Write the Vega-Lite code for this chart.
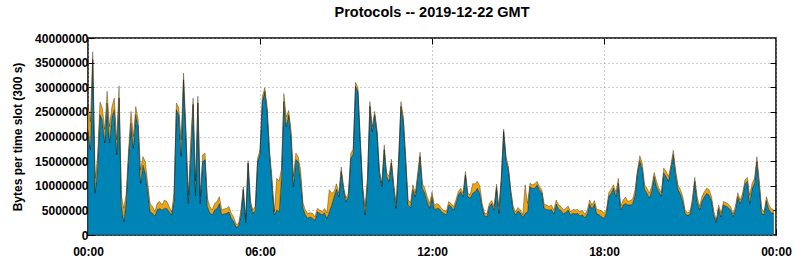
{
"$schema": "https://vega.github.io/schema/vega-lite/v6.json",
"width": 688, "height": 197,
"autosize": "none",
"padding": {"left": 88, "top": 38, "right": 19, "bottom": 25},
"background": "white",
"title": {"text": "Protocols -- 2019-12-22 GMT", "fontSize": 14.5, "fontWeight": "bold", "font": "Liberation Sans", "color": "black", "offset": 12},
"config": {"view": {"stroke": "black", "strokeWidth": 1.5}, "font": "Liberation Sans"},
"data": {"values": [
{"t":0,"tcp":21500000,"other":4900000},{"t":5,"tcp":17300000,"other":5700000},{"t":10,"tcp":35600000,"other":1600000},{"t":15,"tcp":8500000,"other":3000000},
{"t":20,"tcp":14000000,"other":2000000},{"t":25,"tcp":24400000,"other":2600000},{"t":30,"tcp":23400000,"other":2400000},{"t":35,"tcp":18700000,"other":2700000},
{"t":40,"tcp":26800000,"other":2400000},{"t":45,"tcp":18700000,"other":3300000},{"t":50,"tcp":24000000,"other":2000000},{"t":55,"tcp":25400000,"other":2400000},
{"t":60,"tcp":16300000,"other":3000000},{"t":65,"tcp":27800000,"other":2500000},{"t":70,"tcp":6000000,"other":2000000},{"t":75,"tcp":2700000,"other":2700000},
{"t":80,"tcp":7000000,"other":1500000},{"t":85,"tcp":16000000,"other":1500000},{"t":90,"tcp":22700000,"other":2400000},{"t":95,"tcp":17600000,"other":2400000},
{"t":100,"tcp":24400000,"other":1700000},{"t":105,"tcp":22000000,"other":1400000},{"t":110,"tcp":10500000,"other":2700000},{"t":115,"tcp":14200000,"other":1700000},
{"t":120,"tcp":12600000,"other":2300000},{"t":125,"tcp":9200000,"other":1300000},{"t":130,"tcp":4700000,"other":1700000},{"t":135,"tcp":4400000,"other":1400000},
{"t":140,"tcp":3900000,"other":900000},{"t":145,"tcp":5200000,"other":1300000},{"t":150,"tcp":5400000,"other":1400000},{"t":155,"tcp":5100000,"other":1000000},
{"t":160,"tcp":5400000,"other":1700000},{"t":165,"tcp":5400000,"other":1400000},{"t":170,"tcp":4700000,"other":1100000},{"t":175,"tcp":4100000,"other":600000},
{"t":180,"tcp":7000000,"other":1500000},{"t":185,"tcp":25400000,"other":1400000},{"t":190,"tcp":24400000,"other":1400000},{"t":195,"tcp":16000000,"other":3300000},
{"t":200,"tcp":31500000,"other":1400000},{"t":205,"tcp":20000000,"other":1500000},{"t":210,"tcp":6400000,"other":1600000},{"t":215,"tcp":16000000,"other":3300000},
{"t":220,"tcp":26500000,"other":1300000},{"t":225,"tcp":8000000,"other":3000000},{"t":230,"tcp":26800000,"other":1400000},{"t":235,"tcp":6400000,"other":1400000},
{"t":240,"tcp":14900000,"other":1400000},{"t":245,"tcp":15300000,"other":1300000},{"t":250,"tcp":5800000,"other":1700000},{"t":255,"tcp":4500000,"other":1300000},
{"t":260,"tcp":4100000,"other":1000000},{"t":265,"tcp":5100000,"other":1300000},{"t":270,"tcp":5400000,"other":1400000},{"t":275,"tcp":6400000,"other":1400000},
{"t":280,"tcp":4100000,"other":1000000},{"t":285,"tcp":4300000,"other":1000000},{"t":290,"tcp":4400000,"other":1000000},{"t":295,"tcp":4700000,"other":1100000},
{"t":300,"tcp":3400000,"other":1000000},{"t":305,"tcp":2800000,"other":800000},{"t":310,"tcp":1600000,"other":600000},{"t":315,"tcp":1800000,"other":500000},
{"t":320,"tcp":4000000,"other":1000000},{"t":325,"tcp":9200000,"other":600000},{"t":330,"tcp":2500000,"other":600000},{"t":335,"tcp":14600000,"other":500000},
{"t":340,"tcp":6400000,"other":600000},{"t":345,"tcp":4400000,"other":700000},{"t":350,"tcp":5000000,"other":800000},{"t":355,"tcp":14900000,"other":700000},
{"t":360,"tcp":16600000,"other":700000},{"t":365,"tcp":27100000,"other":1100000},{"t":370,"tcp":29200000,"other":700000},{"t":375,"tcp":25100000,"other":1000000},
{"t":380,"tcp":16300000,"other":1000000},{"t":385,"tcp":10500000,"other":1400000},{"t":390,"tcp":4100000,"other":600000},{"t":395,"tcp":5100000,"other":6400000},
{"t":400,"tcp":4700000,"other":6300000},{"t":405,"tcp":12000000,"other":1500000},{"t":410,"tcp":27100000,"other":1600000},{"t":415,"tcp":22000000,"other":2000000},
{"t":420,"tcp":24400000,"other":900000},{"t":425,"tcp":20000000,"other":1400000},{"t":430,"tcp":9800000,"other":2100000},{"t":435,"tcp":15300000,"other":1300000},
{"t":440,"tcp":14900000,"other":1000000},{"t":445,"tcp":11200000,"other":2000000},{"t":450,"tcp":5500000,"other":1000000},{"t":455,"tcp":4100000,"other":1000000},
{"t":460,"tcp":3400000,"other":1000000},{"t":465,"tcp":3700000,"other":800000},{"t":470,"tcp":3400000,"other":1000000},{"t":475,"tcp":3000000,"other":700000},
{"t":480,"tcp":4700000,"other":700000},{"t":485,"tcp":4400000,"other":700000},{"t":490,"tcp":4100000,"other":600000},{"t":495,"tcp":4500000,"other":900000},
{"t":500,"tcp":3400000,"other":1100000},{"t":505,"tcp":4700000,"other":4500000},{"t":510,"tcp":6100000,"other":2400000},{"t":515,"tcp":7800000,"other":1000000},
{"t":520,"tcp":9300000,"other":1100000},{"t":525,"tcp":7800000,"other":700000},{"t":530,"tcp":12900000,"other":900000},{"t":535,"tcp":9300000,"other":500000},
{"t":540,"tcp":6800000,"other":700000},{"t":545,"tcp":7800000,"other":700000},{"t":550,"tcp":15600000,"other":1000000},{"t":555,"tcp":16500000,"other":900000},
{"t":560,"tcp":30200000,"other":800000},{"t":565,"tcp":29200000,"other":700000},{"t":570,"tcp":18700000,"other":600000},{"t":575,"tcp":9200000,"other":600000},
{"t":580,"tcp":4100000,"other":1700000},{"t":585,"tcp":10900000,"other":1000000},{"t":590,"tcp":26100000,"other":1000000},{"t":595,"tcp":21000000,"other":1000000},
{"t":600,"tcp":24400000,"other":700000},{"t":605,"tcp":20700000,"other":700000},{"t":610,"tcp":12600000,"other":600000},{"t":615,"tcp":9800000,"other":700000},
{"t":620,"tcp":17300000,"other":1000000},{"t":625,"tcp":11900000,"other":700000},{"t":630,"tcp":10900000,"other":1000000},{"t":635,"tcp":14600000,"other":800000},
{"t":640,"tcp":9500000,"other":1000000},{"t":645,"tcp":5400000,"other":1000000},{"t":650,"tcp":14600000,"other":700000},{"t":655,"tcp":26100000,"other":1000000},
{"t":660,"tcp":23100000,"other":1000000},{"t":665,"tcp":14900000,"other":1000000},{"t":670,"tcp":6100000,"other":1000000},{"t":675,"tcp":5600000,"other":1000000},
{"t":680,"tcp":9200000,"other":1000000},{"t":685,"tcp":7800000,"other":700000},{"t":690,"tcp":11500000,"other":1100000},{"t":695,"tcp":15900000,"other":900000},
{"t":700,"tcp":9400000,"other":1000000},{"t":705,"tcp":8500000,"other":1000000},{"t":710,"tcp":6800000,"other":1000000},{"t":715,"tcp":5400000,"other":1000000},
{"t":720,"tcp":7800000,"other":1000000},{"t":725,"tcp":5200000,"other":800000},{"t":730,"tcp":5400000,"other":1000000},{"t":735,"tcp":5400000,"other":700000},
{"t":740,"tcp":4700000,"other":700000},{"t":745,"tcp":4400000,"other":600000},{"t":750,"tcp":4100000,"other":700000},{"t":755,"tcp":6100000,"other":700000},
{"t":760,"tcp":5800000,"other":600000},{"t":765,"tcp":5100000,"other":700000},{"t":770,"tcp":6400000,"other":700000},{"t":775,"tcp":8100000,"other":700000},
{"t":780,"tcp":8800000,"other":700000},{"t":785,"tcp":7800000,"other":700000},{"t":790,"tcp":12200000,"other":700000},{"t":795,"tcp":7800000,"other":700000},
{"t":800,"tcp":7500000,"other":700000},{"t":805,"tcp":8500000,"other":1900000},{"t":810,"tcp":8800000,"other":1600000},{"t":815,"tcp":9500000,"other":1400000},
{"t":820,"tcp":8500000,"other":1500000},{"t":825,"tcp":5800000,"other":600000},{"t":830,"tcp":3900000,"other":500000},{"t":835,"tcp":3700000,"other":700000},
{"t":840,"tcp":5800000,"other":600000},{"t":845,"tcp":6400000,"other":600000},{"t":850,"tcp":5100000,"other":700000},{"t":855,"tcp":9600000,"other":700000},
{"t":860,"tcp":4400000,"other":1400000},{"t":865,"tcp":11000000,"other":700000},{"t":870,"tcp":21000000,"other":500000},{"t":875,"tcp":15300000,"other":600000},
{"t":880,"tcp":13200000,"other":700000},{"t":885,"tcp":8500000,"other":700000},{"t":890,"tcp":5100000,"other":700000},{"t":895,"tcp":4100000,"other":600000},
{"t":900,"tcp":4900000,"other":700000},{"t":905,"tcp":4500000,"other":600000},{"t":910,"tcp":3600000,"other":500000},{"t":915,"tcp":4400000,"other":5800000},
{"t":920,"tcp":4700000,"other":1700000},{"t":925,"tcp":9800000,"other":700000},{"t":930,"tcp":9500000,"other":700000},{"t":935,"tcp":9500000,"other":900000},
{"t":940,"tcp":10200000,"other":700000},{"t":945,"tcp":9200000,"other":600000},{"t":950,"tcp":8500000,"other":700000},{"t":955,"tcp":5400000,"other":800000},
{"t":960,"tcp":5200000,"other":900000},{"t":965,"tcp":5100000,"other":700000},{"t":970,"tcp":5200000,"other":900000},{"t":975,"tcp":4300000,"other":800000},
{"t":980,"tcp":6300000,"other":800000},{"t":985,"tcp":5300000,"other":800000},{"t":990,"tcp":5000000,"other":800000},{"t":995,"tcp":4300000,"other":800000},
{"t":1000,"tcp":4600000,"other":800000},{"t":1005,"tcp":5100000,"other":800000},{"t":1010,"tcp":4100000,"other":600000},{"t":1015,"tcp":4400000,"other":800000},
{"t":1020,"tcp":4300000,"other":800000},{"t":1025,"tcp":4400000,"other":800000},{"t":1030,"tcp":3900000,"other":800000},{"t":1035,"tcp":4100000,"other":900000},
{"t":1040,"tcp":3500000,"other":700000},{"t":1045,"tcp":4300000,"other":800000},{"t":1050,"tcp":6300000,"other":800000},{"t":1055,"tcp":5300000,"other":800000},
{"t":1060,"tcp":6300000,"other":700000},{"t":1065,"tcp":4300000,"other":900000},{"t":1070,"tcp":4100000,"other":1000000},{"t":1075,"tcp":3700000,"other":1200000},
{"t":1080,"tcp":3400000,"other":1000000},{"t":1085,"tcp":4500000,"other":500000},{"t":1090,"tcp":7800000,"other":800000},{"t":1095,"tcp":8500000,"other":800000},
{"t":1100,"tcp":9500000,"other":700000},{"t":1105,"tcp":7800000,"other":900000},{"t":1110,"tcp":10500000,"other":1000000},{"t":1115,"tcp":5100000,"other":700000},
{"t":1120,"tcp":6100000,"other":1000000},{"t":1125,"tcp":6400000,"other":1300000},{"t":1130,"tcp":6100000,"other":700000},{"t":1135,"tcp":6100000,"other":900000},
{"t":1140,"tcp":6400000,"other":900000},{"t":1145,"tcp":8100000,"other":1100000},{"t":1150,"tcp":12600000,"other":600000},{"t":1155,"tcp":15100000,"other":1000000},
{"t":1160,"tcp":13500000,"other":1100000},{"t":1165,"tcp":9300000,"other":900000},{"t":1170,"tcp":8500000,"other":1000000},{"t":1175,"tcp":7500000,"other":1000000},
{"t":1180,"tcp":9000000,"other":1000000},{"t":1185,"tcp":11900000,"other":800000},{"t":1190,"tcp":9800000,"other":1100000},{"t":1195,"tcp":8800000,"other":700000},
{"t":1200,"tcp":7900000,"other":700000},{"t":1205,"tcp":12600000,"other":1000000},{"t":1210,"tcp":11900000,"other":1000000},{"t":1215,"tcp":10900000,"other":1000000},
{"t":1220,"tcp":13500000,"other":700000},{"t":1225,"tcp":16300000,"other":900000},{"t":1230,"tcp":12200000,"other":1000000},{"t":1235,"tcp":9200000,"other":1000000},
{"t":1240,"tcp":8300000,"other":900000},{"t":1245,"tcp":6800000,"other":1000000},{"t":1250,"tcp":4300000,"other":700000},{"t":1255,"tcp":4000000,"other":500000},
{"t":1260,"tcp":4200000,"other":500000},{"t":1265,"tcp":6500000,"other":1000000},{"t":1270,"tcp":10900000,"other":800000},{"t":1275,"tcp":6800000,"other":1000000},
{"t":1280,"tcp":5100000,"other":700000},{"t":1285,"tcp":6800000,"other":1000000},{"t":1290,"tcp":7800000,"other":1000000},{"t":1295,"tcp":8500000,"other":1000000},
{"t":1300,"tcp":8100000,"other":1100000},{"t":1305,"tcp":7000000,"other":800000},{"t":1310,"tcp":4000000,"other":800000},{"t":1315,"tcp":2600000,"other":400000},
{"t":1320,"tcp":5400000,"other":700000},{"t":1325,"tcp":3700000,"other":700000},{"t":1330,"tcp":6100000,"other":700000},{"t":1335,"tcp":5900000,"other":700000},
{"t":1340,"tcp":5600000,"other":700000},{"t":1345,"tcp":5100000,"other":700000},{"t":1350,"tcp":3800000,"other":500000},{"t":1355,"tcp":5100000,"other":700000},
{"t":1360,"tcp":7800000,"other":800000},{"t":1365,"tcp":6400000,"other":700000},{"t":1370,"tcp":7700000,"other":800000},{"t":1375,"tcp":10400000,"other":800000},
{"t":1380,"tcp":10900000,"other":800000},{"t":1385,"tcp":6400000,"other":1700000},{"t":1390,"tcp":9500000,"other":1000000},{"t":1395,"tcp":10500000,"other":1000000},
{"t":1400,"tcp":14900000,"other":1000000},{"t":1405,"tcp":9800000,"other":1400000},{"t":1410,"tcp":4400000,"other":1000000},{"t":1415,"tcp":4100000,"other":600000},
{"t":1420,"tcp":7000000,"other":800000},{"t":1425,"tcp":5200000,"other":900000},{"t":1430,"tcp":4500000,"other":900000},{"t":1435,"tcp":4400000,"other":700000}
]},
"transform": [{"fold": ["tcp", "other"], "as": ["proto", "bytes"]}],
"encoding": {
  "x": {"field": "t", "type": "quantitative", "scale": {"domain": [0, 1440], "nice": false, "zero": false}},
  "y": {"field": "bytes", "type": "quantitative", "stack": "zero", "scale": {"domain": [0, 40000000], "nice": false}},
  "color": {"field": "proto", "type": "nominal", "scale": {"domain": ["tcp", "other"], "range": ["#0083b5", "#eca413"]}, "legend": null},
  "order": {"field": "proto", "sort": "descending"}
},
"layer": [
  {"mark": {"type": "area", "stroke": "black", "strokeWidth": 0.8, "strokeOpacity": 0.4},
   "encoding": {
     "x": {"field": "t", "type": "quantitative", "axis": {"orient": "bottom", "title": null, "values": [0, 360, 720, 1080, 1440], "labelExpr": "(datum.value % 1440 < 600 ? '0' : '') + floor((datum.value % 1440) / 60) + ':00'", "labelFont": "Liberation Sans", "labelFontSize": 12, "labelFontWeight": "bold", "labelColor": "black", "labelPadding": 17, "tickSize": -6, "tickColor": "black", "domain": false, "grid": true, "gridDash": [1, 3], "gridColor": "#9a9a9a", "labelFlush": false}},
     "y": {"field": "bytes", "type": "quantitative", "axis": {"orient": "left", "title": "Bytes per time slot (300 s)", "titleFont": "Liberation Sans", "titleFontSize": 12, "titleFontWeight": "bold", "titleColor": "black", "titlePadding": 10, "values": [0, 5000000, 10000000, 15000000, 20000000, 25000000, 30000000, 35000000, 40000000], "format": "d", "labelFont": "Liberation Sans", "labelFontSize": 12, "labelFontWeight": "bold", "labelColor": "black", "labelPadding": 6, "tickSize": -6, "tickColor": "black", "domain": false, "grid": true, "gridDash": [1, 3], "gridColor": "#9a9a9a"}}
   }},
  {"mark": {"type": "area", "opacity": 0},
   "encoding": {
     "x": {"field": "t", "type": "quantitative", "axis": {"orient": "top", "title": null, "values": [360, 720, 1080], "labels": false, "tickSize": -6, "tickColor": "black", "domain": false, "grid": false}},
     "y": {"field": "bytes", "type": "quantitative", "axis": {"orient": "right", "title": null, "values": [5000000, 10000000, 15000000, 20000000, 25000000, 30000000, 35000000], "labels": false, "tickSize": -6, "tickColor": "black", "domain": false, "grid": false}}
   }}
],
"resolve": {"axis": {"x": "independent", "y": "independent"}}
}
